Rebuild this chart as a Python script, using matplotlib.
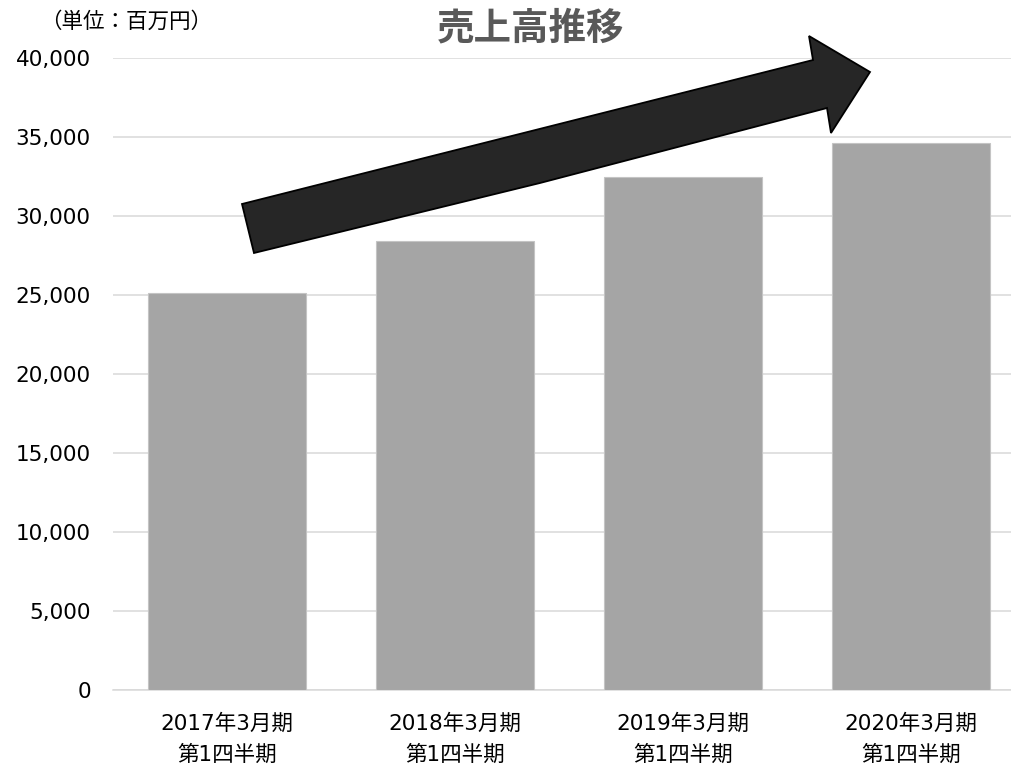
import matplotlib
matplotlib.use('Agg')
import numpy as np
import matplotlib.pyplot as plt
from matplotlib.patches import Polygon

plt.rcParams['font.family'] = ['DejaVu Sans', 'Noto Sans CJK JP']

periods = ['2017年3月期\n第1四半期', '2018年3月期\n第1四半期',
           '2019年3月期\n第1四半期', '2020年3月期\n第1四半期']
sales = [25100, 28400, 32470, 34650]
yticks = [0, 5000, 10000, 15000, 20000, 25000, 30000, 35000, 40000]

W, H = 1011, 773
fig = plt.figure(figsize=(W / 100, H / 100), dpi=100)
ax = fig.add_axes([113 / W, 1 - 690 / H, 1 - 113 / W, (690 - 58) / H])

x = np.arange(len(periods))
ax.bar(x, sales, width=0.693, color='#a5a5a5', edgecolor='#c4c4c4',
       linewidth=0.8, zorder=3)
ax.set_xlim(-0.5, 3.44)
ax.set_ylim(0, 40000)
ax.set_yticks(yticks)
ax.set_yticklabels([f'{v:,}' for v in yticks])
ax.set_xticks(x)
ax.set_xticklabels(periods, linespacing=1.65)
ax.grid(axis='y', color='#d9d9d9', linewidth=1.1, zorder=0)
ax.tick_params(axis='y', length=0, pad=16, labelsize=15.5, labelcolor='#000000')
ax.tick_params(axis='x', length=0, pad=17, labelsize=15.5, labelcolor='#000000')
for s in ['top', 'right', 'left']:
    ax.spines[s].set_visible(False)
ax.spines['bottom'].set_color('#d9d9d9')
ax.spines['bottom'].set_linewidth(1.1)

fig.text(531 / W, 1 - 28 / H, '売上高推移', ha='center', va='center',
         fontsize=27, fontweight='bold', color='#595959',
         family=['Noto Sans CJK JP'])
fig.text(40 / W, 1 - 22 / H, '（単位：百万円）', ha='left', va='center',
         fontsize=15.5, color='#000000', family=['Noto Sans CJK JP'])

# trend arrow (decoration, pixel space of the figure)
arrow_px = [(242, 204), (813, 60), (809, 36), (870, 72),
            (831, 133), (827, 108), (540, 183), (254, 253)]
arrow = Polygon([(px / W, 1 - py / H) for px, py in arrow_px], closed=True,
                transform=fig.transFigure, facecolor='#262626',
                edgecolor='#000000', linewidth=1.3, zorder=10)
fig.patches.append(arrow)

fig.savefig('out.png', dpi=100)
